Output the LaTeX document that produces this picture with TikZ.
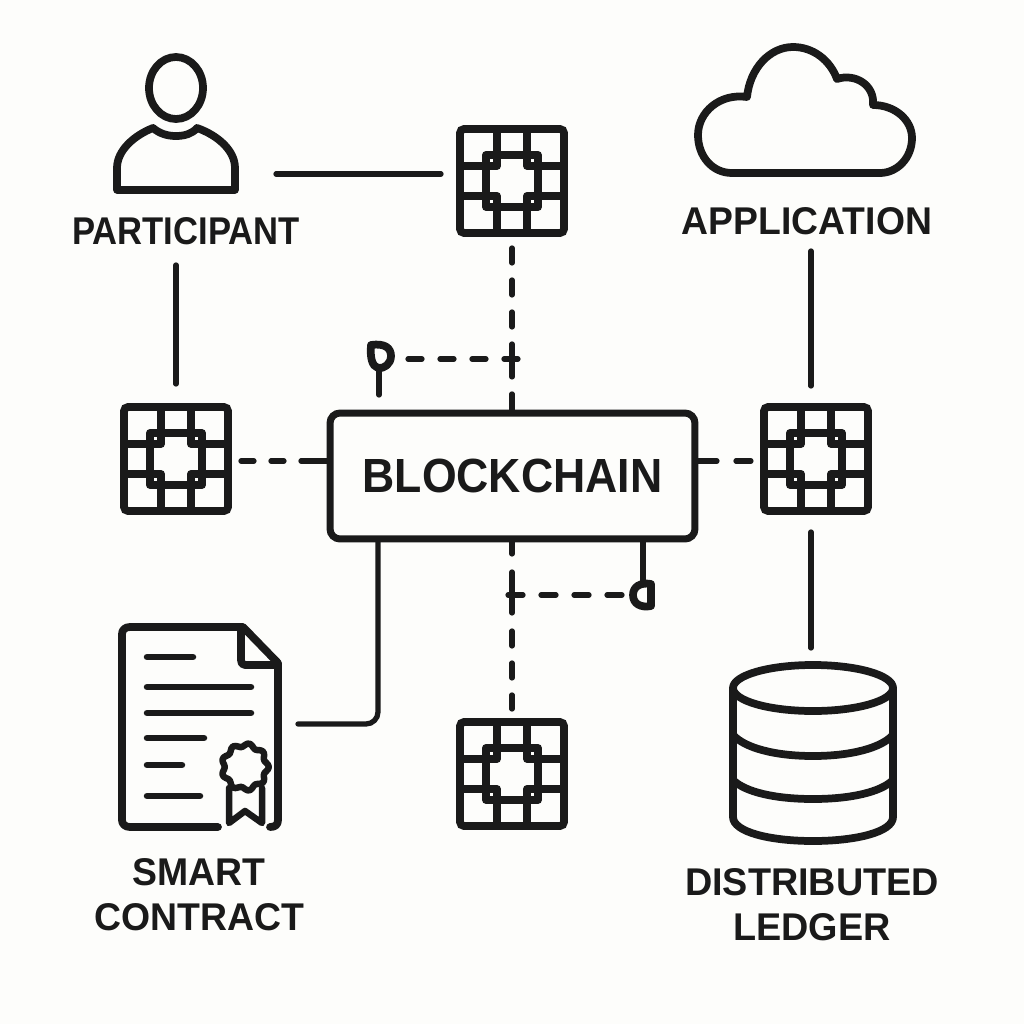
\documentclass[tikz,border=0pt]{standalone}
\usepackage{fontspec}
\setmainfont{Liberation Sans}
\usetikzlibrary{calc}
\definecolor{ink}{HTML}{1A1A1A}
\definecolor{paper}{HTML}{FDFDFB}
\tikzset{
  icon/.style={draw=ink,line width=0.155cm,line join=round,line cap=round},
  thin icon/.style={draw=ink,line width=0.13cm,line join=round,line cap=round},
  conn/.style={draw=ink,line width=0.105cm,line cap=round,line join=round},
  dash conn/.style={conn,dash pattern=on 0.28cm off 0.36cm},
  gridbox/.style={draw=ink,line width=0.155cm,rounded corners=0.08cm,minimum size=2.08cm,inner sep=0pt,outer sep=0.26cm},
  ghost/.style={inner sep=0pt,outer sep=0pt},
  lab/.style={text=ink,inner sep=0pt,outer sep=0pt,font=\bfseries\fontsize{22}{25.5}\selectfont,align=center},
  chainbox/.style={draw=ink,line width=0.14cm,rounded corners=0.2cm,minimum width=7.3cm,minimum height=2.52cm,inner sep=0pt,outer sep=0pt,text=ink,font=\bfseries\fontsize{27.3}{30}\selectfont},
}
\newcommand{\gridicon}[3]{%
  \node[gridbox] (#1) at (#2,#3) {};
  \begin{scope}[shift={(#1.center)}]
    \draw[icon,line cap=butt] (-26,-26) rectangle (26,26);
    \draw[icon,line cap=butt] (-15,-52) -- (-15,-15) -- (-52,-15);
    \draw[icon,line cap=butt] (15,-52) -- (15,-15) -- (52,-15);
    \draw[icon,line cap=butt] (-15,52) -- (-15,15) -- (-52,15);
    \draw[icon,line cap=butt] (15,52) -- (15,15) -- (52,15);
  \end{scope}}
\begin{document}
\begin{tikzpicture}[x=0.02cm,y=-0.02cm]
\useasboundingbox (0,0) rectangle (1024,1024);
\fill[paper] (0,0) rectangle (1024,1024);

% invisible holders for the icons
\node[ghost,minimum width=4.0cm,minimum height=2.8cm] (person) at (176,123) {};
\node[ghost,minimum width=3.92cm,minimum height=4.2cm] (contract) at (200,724) {};
\node[ghost,minimum width=3.2cm,minimum height=4.2cm] (db) at (811,753) {};

% person
\draw[icon] (176,88) ellipse [x radius=27,y radius=31];
\draw[icon] (117,190) -- (117,168) .. controls (117,150) and (135,135) .. (153,128)
  .. controls (160,134) and (168,136) .. (176,136)
  .. controls (184,136) and (192,134) .. (197,128)
  .. controls (217,135) and (235,150) .. (235,168) -- (235,190) -- cycle;

% cloud
\draw[icon] (732,173) .. controls (712,173) and (698,156) .. (698,135)
  .. controls (698,112) and (720,93) .. (747,97)
  .. controls (750,68) and (770,47) .. (793,47)
  .. controls (813,47) and (830,60) .. (837,79)
  .. controls (855,73) and (875,85) .. (873,105)
  .. controls (895,105) and (912,120) .. (912,138)
  .. controls (912,158) and (897,173) .. (880,173) -- cycle;

% contract
\draw[icon] (218,827) -- (130,827) .. controls (125,827) and (122,824) .. (122,820) -- (122,634)
  .. controls (122,630) and (125,627) .. (130,627) -- (243,627) -- (278,663) -- (278,820)
  .. controls (278,825) and (275,827) .. (270,827);
\draw[icon] (241,630) -- (241,660) .. controls (241,663) and (242,665) .. (245,665) -- (278,665);
\foreach \yy/\xx in {657/193,687/251,713/251,738/204,765/182,796/200}
  \draw[thin icon] (147,\yy) -- (\xx,\yy);
\draw[thin icon] plot[smooth cycle,domain=0:354,samples=60] ({245+(22+1.8*cos(9*\x))*cos(\x)},{767+(22+1.8*cos(9*\x))*sin(\x)});
\draw[thin icon] (229,788) -- (229,823) -- (245,811) -- (262,823) -- (262,788);

% database
\draw[icon] (813,688) ellipse [x radius=80,y radius=23];
\draw[icon] (733,688) -- (733,817) .. controls (733,832) and (770,841) .. (813,841)
  .. controls (856,841) and (893,832) .. (893,817) -- (893,688);
\draw[icon] (733,735) .. controls (745,748) and (775,756) .. (813,756) .. controls (851,756) and (881,748) .. (893,735);
\draw[icon] (733,780) .. controls (745,792) and (775,799) .. (813,799) .. controls (851,799) and (881,792) .. (893,780);

% grids and central box
\gridicon{g1}{512}{181}
\gridicon{g2}{176}{459}
\gridicon{g3}{816}{459}
\gridicon{g4}{512}{774}
\node[chainbox] (chain) at (512.5,476) {\raisebox{-0.6pt}{\scalebox{0.93}[1]{BLOCKCHAIN}}};

% labels
\node[lab,minimum height=1.36cm] (plab) at (186,231) {\scalebox{0.895}[1]{PARTICIPANT}};
\node[lab,minimum height=1.2cm] (alab) at (807,221) {\scalebox{0.965}[1]{APPLICATION}};
\node[lab] (slab) at (199,895) {\scalebox{0.967}[1]{SMART}\\\scalebox{0.967}[1]{CONTRACT}};
\node[lab] (dlab) at (812,905) {\scalebox{0.977}[1]{DISTRIBUTED}\\\scalebox{0.977}[1]{LEDGER}};

% pins
\coordinate (pin1) at (379,369);
\coordinate (pin1end) at (379,395);
\coordinate (p1) at (408,359);
\coordinate (x1) at (518,359);
\coordinate (pin2) at (643,582);
\coordinate (p2) at (622,595);
\coordinate (x2) at (508,595);
\coordinate (bus) at (378,724);
\draw[icon] (371,345) .. controls (385,343) and (391,348) .. (391,356)
  .. controls (391,364) and (384,369) .. (378,368)
  .. controls (372,366) and (370,358) .. (371,345) -- cycle;
\draw[icon] (651,584) .. controls (640,582) and (633,587) .. (633,595)
  .. controls (633,604) and (641,608) .. (651,606) -- cycle;

% connectors
\draw[conn,shorten >=0.12cm] ([yshift=0.14cm]person.east |- g1.west) -- ([yshift=0.14cm]g1.west);
\draw[conn,shorten >=0.2cm] (plab.south -| g2.north) -- (g2.north);
\draw[conn,dash pattern=on 0.3cm off 0.34cm on 0.3cm off 0.34cm on 0.3cm off 0.34cm on 0.66cm off 0.34cm on 0.5cm off 1cm]
  ([yshift=-0.04cm]g1.south) -- (g1.south |- chain.north);
\draw[conn,dash pattern=on 0.26cm off 0.34cm on 0.26cm off 0.34cm on 1cm off 1cm]
  ([yshift=-0.04cm]g2.east) -- ([yshift=-0.04cm]g2.east -| chain.west);
\draw[conn,dash pattern=on 0.44cm off 0.38cm on 0.3cm off 1cm]
  ([yshift=-0.04cm]chain.east |- g3.west) -- ([yshift=-0.04cm]g3.west);
\draw[conn,dash pattern=on 0.3cm off 0.36cm on 0.82cm off 0.36cm on 0.3cm off 0.34cm on 0.3cm off 0.34cm on 0.3cm off 1cm]
  (chain.south -| g4.north) -- (g4.north);
\draw[conn,shorten >=0.16cm] (alab.south -| db.north) -- (g3.north -| db.north);
\draw[conn,shorten <=0.16cm] (g3.south -| db.north) -- (db.north);
\draw[conn,rounded corners=0.24cm] (bus |- chain.south) -- (bus) -- (contract.east |- bus);
\draw[conn] (pin1) -- (pin1end);
\draw[conn] (chain.south -| pin2) -- (pin2);
\draw[dash conn] (p1) -- (x1);
\draw[conn,dash pattern=on 0.3cm off 0.36cm] (p2) -- (x2);
\end{tikzpicture}
\end{document}
